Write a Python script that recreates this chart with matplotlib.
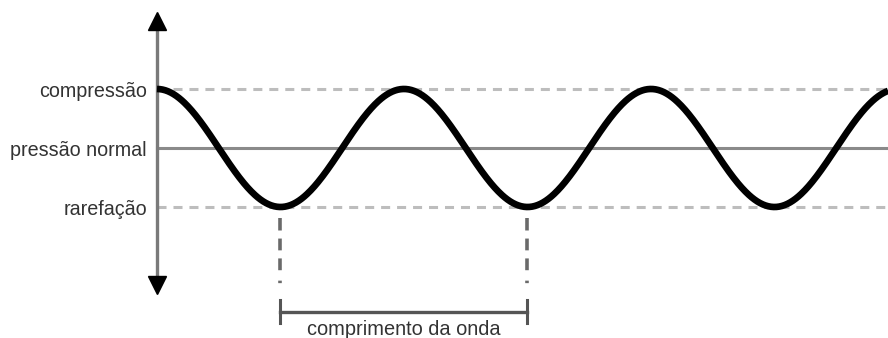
import numpy as np
import matplotlib
matplotlib.use('Agg')
import matplotlib.pyplot as plt

plt.rcParams['font.family'] = ['Liberation Sans', 'DejaVu Sans']
plt.rcParams['lines.scale_dashes'] = False

# Níveis de pressão (unidades arbitrárias)
level_labels = ['compressão', 'pressão normal', 'rarefação']
level_values = [1.0, 0.0, -1.0]
level_styles = ['dashed', 'solid', 'dashed']

# Onda (em comprimentos de onda)
wavelength = 1.0
amplitude = 1.0
wave_end = 2.96
wavelength_start = 0.5  # primeiro vale
wavelength_label = 'comprimento da onda'

fig = plt.figure(figsize=(8.88, 3.38), dpi=100)
ax = fig.add_axes([0, 0, 1, 1])
ax.axis('off')
ax.set_xlim(-0.6356, 2.9595)
ax.set_ylim(-3.22, 2.508)

# Linhas de referência
for lab, val, ls in zip(level_labels, level_values, level_styles):
    if ls == 'dashed':
        ax.plot([0, wave_end + 0.1], [val, val], color='#bdbdbd', lw=2.2,
                linestyle=(0, (6.5, 5.0)), solid_capstyle='butt', zorder=1)
    else:
        ax.plot([0, wave_end + 0.1], [val, val], color='#8a8a8a', lw=2.2,
                zorder=1)
    ax.text(-0.0405, val - 0.05, lab, ha='right', va='center', fontsize=14.2,
            color='#333333')

# Eixo vertical com setas
ax.plot([0, 0], [2.0, -2.19], color='#7a7a7a', lw=2.4, zorder=2)
ax.plot([0], [2.144], marker='^', ms=12.5, color='black', zorder=3)
ax.plot([0], [-2.33], marker='v', ms=12.5, color='black', zorder=3)

# Onda
x = np.linspace(0, wave_end, 800)
y = amplitude * np.cos(2 * np.pi * x / wavelength)
ax.plot(x, y, color='black', lw=4.8, zorder=4, solid_capstyle='butt')

# Marcação do comprimento de onda
x0 = wavelength_start
x1 = wavelength_start + wavelength
for xv in (x0, x1):
    ax.plot([xv, xv], [-1.19, -2.36], color='#6a6a6a', lw=2.6,
            linestyle=(0, (9.0, 5.8, 8.5, 5.8, 8.5, 7.5, 1.8, 30)),
            solid_capstyle='butt', dash_capstyle='butt', zorder=2)
    ax.plot([xv, xv], [-2.576, -2.966], color='#555555', lw=2.2, zorder=2)
ax.plot([x0, x1], [-2.78, -2.78], color='#555555', lw=2.4, zorder=2)
ax.text((x0 + x1) / 2, -2.91, wavelength_label, ha='center', va='top',
        fontsize=14.4, color='#333333')

fig.savefig('out.png', dpi=100)
